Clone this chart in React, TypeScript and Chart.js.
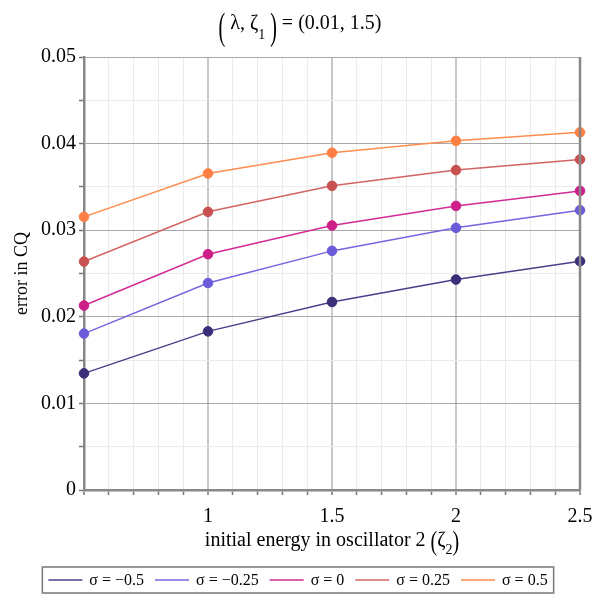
import { Chart, registerables } from "chart.js";
import { useEffect, useRef } from "react";

Chart.register(...registerables);

// initial energy in oscillator 2
const zeta2 = [0.5, 1, 1.5, 2, 2.5];

// error in CQ for each sigma
const sigmaMinus05 = [0.01347, 0.01832, 0.02171, 0.0243, 0.02642];
const sigmaMinus025 = [0.01806, 0.0239, 0.02761, 0.03027, 0.03231];
const sigmaZero = [0.0213, 0.02723, 0.03054, 0.0328, 0.03454];
const sigmaPlus025 = [0.02638, 0.03212, 0.03512, 0.03694, 0.03817];
const sigmaPlus05 = [0.03154, 0.03655, 0.03894, 0.04032, 0.0413];

const seriesLabels = ["σ = −0.5", "σ = −0.25", "σ = 0", "σ = 0.25", "σ = 0.5"];
const seriesValues = [sigmaMinus05, sigmaMinus025, sigmaZero, sigmaPlus025, sigmaPlus05];
const lineColors = ["#4b3f8c", "#7466e0", "#d42a96", "#d46464", "#ff8c4f"];
const pointColors = ["#3a2f78", "#6a5cd8", "#cc1f88", "#c85050", "#ff7f45"];

const FONT = "'Liberation Serif', 'Times New Roman', serif";

type Part = { t: string; size?: number; dy?: number; stretch?: number };

function drawParts(
    ctx: CanvasRenderingContext2D,
    parts: Part[],
    x: number,
    y: number,
    base: number,
    parenMid = 0,
    measureOnly = false
) {
    let cx = x;
    for (const p of parts) {
        const size = p.size || base;
        ctx.font = `${size}px ${FONT}`;
        const w = ctx.measureText(p.t).width;
        if (!measureOnly) {
            if (p.stretch) {
                ctx.save();
                ctx.translate(cx, y + parenMid);
                ctx.scale(1, p.stretch);
                ctx.textBaseline = "middle";
                ctx.fillText(p.t, 0, 0);
                ctx.restore();
            } else {
                ctx.textBaseline = "alphabetic";
                ctx.fillText(p.t, cx, y + (p.dy || 0));
            }
        }
        cx += w;
    }
    return cx - x;
}

const decor = {
    id: "decor",
    afterDraw(chart: any) {
        const ctx: CanvasRenderingContext2D = chart.ctx;
        const area = chart.chartArea;
        ctx.save();

        // right frame line
        ctx.strokeStyle = "#888";
        ctx.lineWidth = 2.5;
        ctx.beginPath();
        ctx.moveTo(area.right, area.top);
        ctx.lineTo(area.right, area.bottom);
        ctx.stroke();

        ctx.fillStyle = "#000";
        ctx.textAlign = "left";

        // title
        const title: Part[] = [
            { t: "(", stretch: 1.85 },
            { t: " λ, ζ" },
            { t: "1", size: 14, dy: 10 },
            { t: " )", stretch: 1.85 },
            { t: " = (0.01, 1.5)" },
        ];
        const tw = drawParts(ctx, title, 0, 0, 20, 0, true);
        drawParts(ctx, title, 300 - tw / 2, 29, 20, 0);

        // x axis title
        const xTitle: Part[] = [
            { t: "initial energy in oscillator 2 " },
            { t: "(", stretch: 1.4 },
            { t: "ζ" },
            { t: "2", size: 14, dy: 8 },
            { t: ")", stretch: 1.4 },
        ];
        const xw = drawParts(ctx, xTitle, 0, 0, 20, 0, true);
        drawParts(ctx, xTitle, (area.left + area.right) / 2 - xw / 2, 546, 20, -3);

        // y axis title
        ctx.save();
        ctx.translate(22, (area.top + area.bottom) / 2);
        ctx.rotate(-Math.PI / 2);
        ctx.font = `18px ${FONT}`;
        ctx.textAlign = "center";
        ctx.textBaseline = "middle";
        ctx.fillText("error in CQ", 0, 0);
        ctx.restore();

        // legend
        ctx.font = `16px ${FONT}`;
        const lineLen = 34;
        const gapText = 7;
        const gapItem = 11;
        const widths = chart.data.datasets.map((d: any) => ctx.measureText(d.label).width);
        const total = widths.reduce((a: number, w: number) => a + lineLen + gapText + w, 0) + gapItem * (widths.length - 1);
        const pad = 6;
        let lx = 298 - total / 2;
        const ly = 580;
        ctx.strokeStyle = "#777";
        ctx.lineWidth = 1.5;
        ctx.strokeRect(lx - pad, 567, total + pad * 2, 26);
        ctx.textBaseline = "middle";
        ctx.textAlign = "left";
        chart.data.datasets.forEach((d: any, i: number) => {
            ctx.strokeStyle = d.borderColor;
            ctx.lineWidth = 1.5;
            ctx.beginPath();
            ctx.moveTo(lx, ly);
            ctx.lineTo(lx + lineLen, ly);
            ctx.stroke();
            lx += lineLen + gapText;
            ctx.fillStyle = "#000";
            ctx.fillText(d.label, lx, ly + 1);
            lx += widths[i] + gapItem;
        });

        ctx.restore();
    },
};

const isMultiple = (v: number, step: number) => Math.abs(v / step - Math.round(v / step)) < 1e-6;

export default function App() {
    const chartRef: any = useRef(null);

    useEffect(() => {
        document.body.style.margin = "0";
        if (!chartRef?.current) return;
        const chart = new Chart(chartRef.current.getContext("2d"), {
            type: "line",
            data: {
                datasets: seriesValues.map((values, i) => ({
                    label: seriesLabels[i],
                    data: zeta2.map((x, j) => ({ x, y: values[j] })),
                    borderColor: lineColors[i],
                    backgroundColor: pointColors[i],
                    pointBackgroundColor: pointColors[i],
                    pointBorderColor: pointColors[i],
                    pointRadius: 4.8,
                    pointBorderWidth: 1,
                    borderWidth: 1.5,
                    clip: false as any,
                })),
            },
            options: {
                animation: false,
                responsive: true,
                maintainAspectRatio: false,
                layout: { padding: { top: 57, right: 20, left: 0, bottom: 0 } },
                plugins: {
                    legend: { display: false },
                    title: { display: false },
                    tooltip: { enabled: false },
                },
                scales: {
                    x: {
                        type: "linear",
                        min: 0.5,
                        max: 2.5,
                        afterFit: (scale: any) => {
                            scale.height = 110;
                            scale.paddingRight = 0;
                        },
                        ticks: {
                            stepSize: 0.1,
                            autoSkip: false,
                            maxRotation: 0,
                            padding: 10,
                            color: "#000",
                            font: { family: FONT, size: 20 },
                            callback: (v: any) => (isMultiple(v, 0.5) && Math.abs(v - 0.5) > 1e-6 ? String(+v.toFixed(1)) : ""),
                        },
                        grid: {
                            color: (c: any) => (isMultiple(c.tick?.value ?? 0, 0.5) ? "#c8c8c8" : "#ebebeb"),
                            lineWidth: (c: any) => (isMultiple(c.tick?.value ?? 0, 0.5) ? 2 : 1),
                            tickColor: "#777",
                            tickLength: 5,
                            tickWidth: 1.5,
                        },
                        border: { color: "#888", width: 2.5 },
                    },
                    y: {
                        min: 0,
                        max: 0.05,
                        afterFit: (scale: any) => {
                            scale.width = 84;
                        },
                        ticks: {
                            stepSize: 0.005,
                            autoSkip: false,
                            padding: 3,
                            color: "#000",
                            font: { family: FONT, size: 20 },
                            callback: (v: any) => {
                                if (!isMultiple(v, 0.01)) return "";
                                const n = Math.round(v * 100);
                                return n === 0 ? "0" : (n / 100).toFixed(2);
                            },
                        },
                        grid: {
                            color: (c: any) => (isMultiple(c.tick?.value ?? 0, 0.01) ? "#a8a8a8" : "#ebebeb"),
                            lineWidth: 1,
                            tickColor: "#777",
                            tickLength: 5,
                            tickWidth: 1.5,
                        },
                        border: { color: "#888", width: 2.5 },
                    },
                },
            },
            plugins: [decor],
        });
        return () => {
            chart.destroy();
        };
    }, []);

    return (
        <div style={{ width: 600, height: 600, position: "relative" }}>
            <canvas ref={chartRef} />
        </div>
    );
}
